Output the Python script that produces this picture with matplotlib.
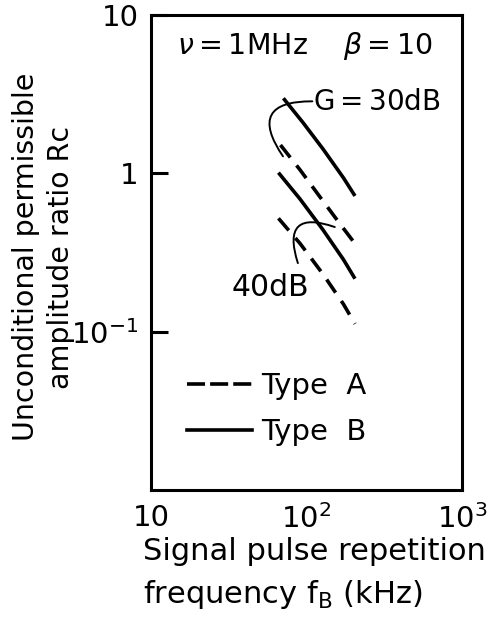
import matplotlib.pyplot as plt
from matplotlib.lines import Line2D

plt.rcParams['font.family'] = 'DejaVu Sans'
plt.rcParams['mathtext.fontset'] = 'dejavusans'

# values (kHz, Rc)
freq_30_B = [71, 95, 128, 173, 205]
rc_30_B = [2.98, 2.09, 1.42, 0.935, 0.72]
freq_30_A = [68, 91, 122, 164, 205]
rc_30_A = [1.51, 1.05, 0.71, 0.48, 0.36]
freq_40_B = [66, 91, 128, 173, 205]
rc_40_B = [1.01, 0.687, 0.438, 0.285, 0.216]
freq_40_A = [66, 91, 128, 173, 205]
rc_40_A = [0.52, 0.36, 0.23, 0.149, 0.112]

x_ticks = [10, 100, 1000]
x_ticklabels = ['10', '10$^2$', '10$^3$']
y_ticks = [0.1, 1, 10]
y_ticklabels = ['10$^{-1}$', '1', '10']

fig = plt.figure(figsize=(4.96, 6.24), dpi=100)
ax = fig.add_axes([151/496, 1 - 490/624, 311/496, 475/624])

lw = 2.6
dash = (4.4, 2.8)
ax.plot(freq_30_B, rc_30_B, color='black', lw=lw, solid_capstyle='butt')
ax.plot(freq_30_A, rc_30_A, color='black', lw=lw, dashes=dash)
ax.plot(freq_40_B, rc_40_B, color='black', lw=lw, solid_capstyle='butt')
ax.plot(freq_40_A, rc_40_A, color='black', lw=lw, dashes=dash)

ax.set_xscale('log')
ax.set_yscale('log')
ax.set_xlim(10, 1000)
ax.set_ylim(0.01, 10)

ax.set_xticks(x_ticks)
ax.set_xticklabels(x_ticklabels)
ax.set_yticks(y_ticks)
ax.set_yticklabels(y_ticklabels)
ax.minorticks_off()
ax.tick_params(axis='y', direction='in', length=12, width=2.2, pad=9, labelsize=21)
ax.tick_params(axis='x', length=0, pad=10, labelsize=21)
for s in ax.spines.values():
    s.set_linewidth(2.2)

ax.set_xlabel('Signal pulse repetition\nfrequency f$_\\mathregular{B}$ (kHz)',
              fontsize=22, linespacing=1.45, multialignment='left')
ax.xaxis.set_label_coords(0.526, -0.1)
ax.set_ylabel('Unconditional permissible\namplitude ratio Rc', fontsize=20.5, linespacing=1.33)
ax.yaxis.set_label_coords(-0.244, 0.49)

ax.text(0.084, 0.935, r'$\nu=$1MHz    $\beta=$10', transform=ax.transAxes,
        fontsize=20.5, va='center', ha='left')

# G = 30dB label with its hook
ax.text(110, 2.83, 'G$=$30dB', fontsize=20, va='center', ha='left')
ax.annotate('', xy=(70.6, 1.28), xytext=(109, 2.85),
            arrowprops=dict(arrowstyle='-', lw=1.4, color='black',
                            shrinkA=0, shrinkB=0,
                            connectionstyle='arc3,rad=0.95'))

# 40dB label with its hook
ax.text(58.6, 0.19, '40dB', fontsize=21.5, va='center', ha='center')
ax.annotate('', xy=(152, 0.458), xytext=(88, 0.271),
            arrowprops=dict(arrowstyle='-', lw=1.4, color='black',
                            shrinkA=0, shrinkB=0,
                            connectionstyle='arc3,rad=-1.0'))

handles = [Line2D([], [], color='black', lw=lw, dashes=(5.0, 1.4)),
           Line2D([], [], color='black', lw=lw)]
ax.legend(handles, ['Type  A', 'Type  B'], loc='upper left',
          bbox_to_anchor=(0.115, 0.249), frameon=False, fontsize=21,
          handlelength=2.25, handletextpad=0.3, labelspacing=0.62,
          borderpad=0, borderaxespad=0)

fig.savefig('out.png', dpi=100)
